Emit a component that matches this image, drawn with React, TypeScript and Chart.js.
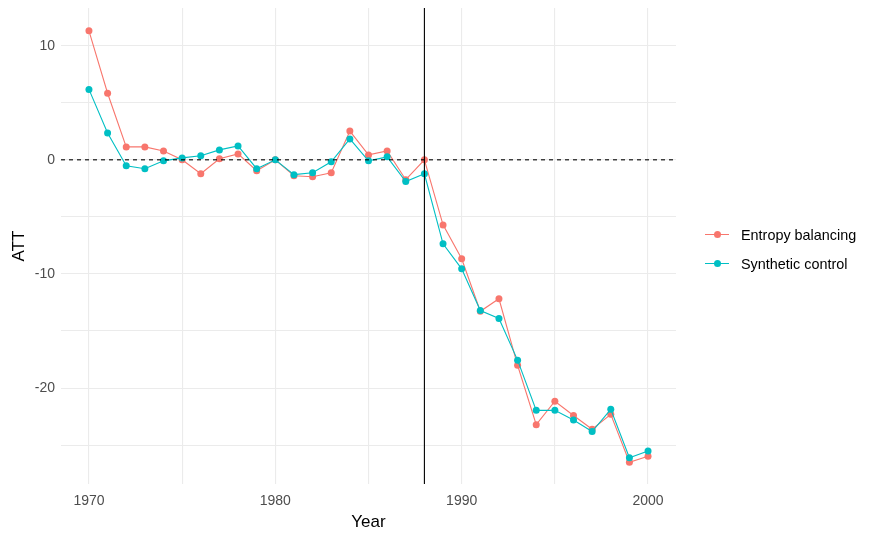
import React, { useEffect, useRef } from 'react';
import { Chart, registerables } from 'chart.js';

Chart.register(...registerables);

const YEARS = [
  1970, 1971, 1972, 1973, 1974, 1975, 1976, 1977, 1978, 1979, 1980,
  1981, 1982, 1983, 1984, 1985, 1986, 1987, 1988, 1989, 1990,
  1991, 1992, 1993, 1994, 1995, 1996, 1997, 1998, 1999, 2000,
];

const ENTROPY = [
  11.3, 5.83, 1.13, 1.13, 0.78, 0.0, -1.22, 0.09, 0.52, -0.96, 0.0,
  -1.39, -1.48, -1.13, 2.52, 0.43, 0.78, -1.74, 0.0, -5.7, -8.67,
  -13.27, -12.17, -18.0, -23.2, -21.15, -22.4, -23.6, -22.3, -26.5, -25.97,
];

const SYNTH = [
  6.17, 2.35, -0.52, -0.78, -0.09, 0.17, 0.35, 0.87, 1.22, -0.78, 0.0,
  -1.3, -1.13, -0.17, 1.83, -0.09, 0.26, -1.91, -1.22, -7.36, -9.55,
  -13.2, -13.9, -17.55, -21.95, -21.95, -22.8, -23.8, -21.86, -26.1, -25.5,
];

const SERIES_NAMES = ['Entropy balancing', 'Synthetic control'];
const SERIES_COLORS = ['#F8766D', '#00BFC4'];

const X_GRID = [1970, 1975, 1980, 1985, 1990, 1995, 2000];
const X_LABELS = [1970, 1980, 1990, 2000];
const Y_GRID = [-25, -20, -15, -10, -5, 0, 5, 10];
const Y_LABELS = [-20, -10, 0, 10];

const TREATMENT_YEAR = 1988;
const ZERO_LINE = 0;

// dashed zero line and solid treatment-year line, drawn over the data
const refLines = {
  id: 'refLines',
  afterDatasetsDraw(chart: any) {
    const { ctx, chartArea, scales } = chart;
    const y0 = scales.y.getPixelForValue(ZERO_LINE);
    const x0 = scales.x.getPixelForValue(TREATMENT_YEAR);
    ctx.save();
    ctx.strokeStyle = '#000000';
    ctx.lineWidth = 1.1;
    ctx.setLineDash([4, 4]);
    ctx.beginPath();
    ctx.moveTo(chartArea.left, y0);
    ctx.lineTo(chartArea.right, y0);
    ctx.stroke();
    ctx.setLineDash([]);
    ctx.beginPath();
    ctx.moveTo(x0, chartArea.top);
    ctx.lineTo(x0, chartArea.bottom);
    ctx.stroke();
    ctx.restore();
  },
};

const FONT = '"Liberation Sans", Arial, sans-serif';

export default function App() {
  const canvasRef = useRef<HTMLCanvasElement>(null);

  useEffect(() => {
    if (!canvasRef.current) return;
    const mk = (name: string, data: number[], color: string) => ({
      label: name,
      data: YEARS.map((yr, i) => ({ x: yr, y: data[i] })),
      borderColor: color,
      backgroundColor: color,
      borderWidth: 1.1,
      pointRadius: 3.5,
      pointBorderWidth: 0,
      pointHoverRadius: 3.5,
      tension: 0,
    });

    const chart = new Chart(canvasRef.current, {
      type: 'line',
      data: {
        datasets: [
          mk(SERIES_NAMES[1], SYNTH, SERIES_COLORS[1]),
          mk(SERIES_NAMES[0], ENTROPY, SERIES_COLORS[0]),
        ],
      },
      options: {
        animation: false,
        responsive: false,
        devicePixelRatio: 1,
        layout: { padding: { top: 8, right: 199, left: 0, bottom: 0 } },
        plugins: {
          legend: { display: false },
          tooltip: { enabled: false },
        },
        scales: {
          x: {
            type: 'linear',
            min: 1968.5,
            max: 2001.5,
            afterBuildTicks: (s: any) => {
              s.ticks = X_GRID.map(v => ({ value: v }));
            },
            afterFit: (s: any) => {
              s.height = 56;
              s.paddingLeft = 0;
              s.paddingRight = 0;
            },
            grid: { color: '#EBEBEB', lineWidth: 1.1, drawTicks: false },
            border: { display: false },
            ticks: {
              padding: 9,
              color: '#4D4D4D',
              font: { family: FONT, size: 14 },
              callback: (v: any) => (X_LABELS.includes(Number(v)) ? String(v) : ''),
              maxRotation: 0,
              autoSkip: false,
            },
            title: {
              display: true,
              text: 'Year',
              color: '#000000',
              font: { family: FONT, size: 17 },
              padding: { top: 2, bottom: 7 },
            },
          },
          y: {
            type: 'linear',
            min: -28.4,
            max: 13.3,
            afterBuildTicks: (s: any) => {
              s.ticks = Y_GRID.map(v => ({ value: v }));
            },
            afterFit: (s: any) => {
              s.width = 61;
              s.paddingTop = 0;
              s.paddingBottom = 0;
            },
            grid: { color: '#EBEBEB', lineWidth: 1.1, drawTicks: false },
            border: { display: false },
            ticks: {
              padding: 6,
              color: '#4D4D4D',
              font: { family: FONT, size: 14 },
              callback: (v: any) => (Y_LABELS.includes(Number(v)) ? String(v) : ''),
              autoSkip: false,
            },
            title: {
              display: true,
              text: 'ATT',
              color: '#000000',
              font: { family: FONT, size: 17 },
              padding: { top: 9, bottom: 4 },
            },
          },
        },
      },
      plugins: [refLines],
    });

    return () => chart.destroy();
  }, []);

  return (
    <div style={{ position: 'fixed', left: 0, top: 0, width: 875, height: 540, background: '#fff' }}>
      <canvas ref={canvasRef} width={875} height={540} style={{ width: 875, height: 540 }} />
      <div style={{ position: 'absolute', left: 705, top: 220, fontFamily: FONT, fontSize: 14.4, color: '#000' }}>
        {SERIES_NAMES.map((name, i) => (
          <div key={name} style={{ display: 'flex', alignItems: 'center', height: 29 }}>
            <div style={{ position: 'relative', width: 24, height: 10, marginRight: 12 }}>
              <div style={{ position: 'absolute', left: 0, right: 0, top: 4.5, height: 1.1, background: SERIES_COLORS[i] }} />
              <div style={{ position: 'absolute', left: 8.5, top: 1.5, width: 7, height: 7, borderRadius: '50%', background: SERIES_COLORS[i] }} />
            </div>
            <span>{name}</span>
          </div>
        ))}
      </div>
    </div>
  );
}
